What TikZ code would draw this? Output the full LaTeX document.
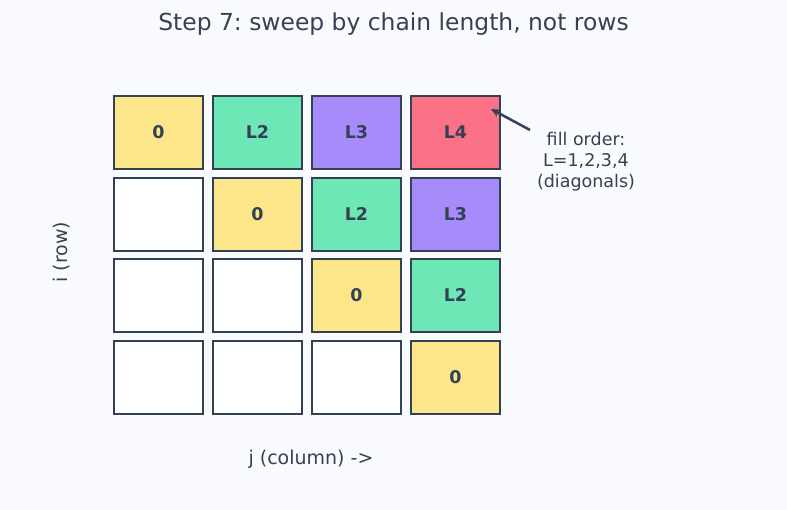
\documentclass[tikz,border=0pt]{standalone}
\usepackage{fontspec}
\setmainfont{DejaVu Sans}
\usepackage{tikz}
\usetikzlibrary{arrows.meta}
\definecolor{bgpage}{HTML}{F9FAFD}
\definecolor{ink}{HTML}{334155}
\definecolor{txt}{HTML}{374151}
\definecolor{lzero}{HTML}{FDE68A}
\definecolor{ltwo}{HTML}{6EE7B7}
\definecolor{lthree}{HTML}{A78BFA}
\definecolor{lfour}{HTML}{FB7185}
\frenchspacing

\begin{document}
\begin{tikzpicture}[x=1pt, y=-1pt,
		cell/.style={draw=ink, line width=2pt, minimum width=89pt, minimum height=73pt,
			inner sep=0pt, text=ink, font=\fontsize{17.5}{20}\selectfont\bfseries},
		lbl/.style={text=txt, font=\fontsize{19}{22}\selectfont}]
			\useasboundingbox[fill=bgpage] (0,0) rectangle (787,510);
			\node[text=txt, font=\fontsize{23.4}{27}\selectfont] (title) at (393.5,24) {Step 7: sweep by chain length, not rows};
			% row 1
			\node[cell, fill=lzero]   (c11) at (158.5,132.5) {0};
			\node[cell, fill=ltwo]    (c12) at (257.5,132.5) {L2};
			\node[cell, fill=lthree]  (c13) at (356.5,132.5) {L3};
			\node[cell, fill=lfour]   (c14) at (455.5,132.5) {L4};
			% row 2
			\node[cell, fill=white]   (c21) at (158.5,214.5) {};
			\node[cell, fill=lzero]   (c22) at (257.5,214.5) {0};
			\node[cell, fill=ltwo]    (c23) at (356.5,214.5) {L2};
			\node[cell, fill=lthree]  (c24) at (455.5,214.5) {L3};
			% row 3
			\node[cell, fill=white]   (c31) at (158.5,295.5) {};
			\node[cell, fill=white]   (c32) at (257.5,295.5) {};
			\node[cell, fill=lzero]   (c33) at (356.5,295.5) {0};
			\node[cell, fill=ltwo]    (c34) at (455.5,295.5) {L2};
			% row 4
			\node[cell, fill=white]   (c41) at (158.5,377.5) {};
			\node[cell, fill=white]   (c42) at (257.5,377.5) {};
			\node[cell, fill=white]   (c43) at (356.5,377.5) {};
			\node[cell, fill=lzero]   (c44) at (455.5,377.5) {0};
			% axes
			\node[lbl, rotate=90] (rowlbl) at (62,252) {i (row)};
			\node[lbl] (collbl) at (311,459) {j (column) ->};
			% note
			\node[text=txt, font=\fontsize{17.5}{21}\selectfont, align=center] (note) at (586,162) {fill order:\\L=1,2,3,4\\(diagonals)};
			\coordinate (tail) at (530,130);
			\coordinate (tip) at (491,109);
			\draw[ink, line width=2.5pt, -{Stealth[length=9pt, width=8pt, inset=3pt]}] (tail) -- (tip);
		\end{tikzpicture}
\end{document}
